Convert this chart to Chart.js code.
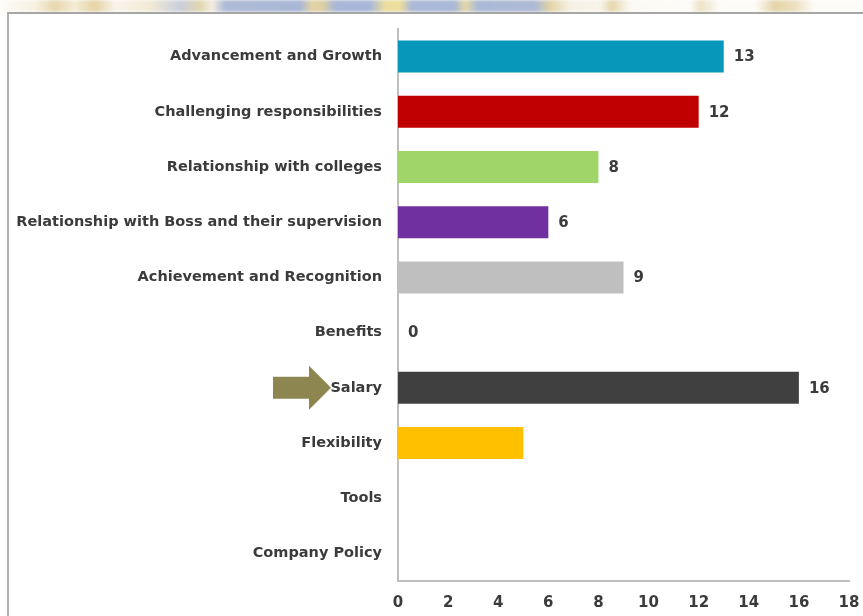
<!DOCTYPE html>
<html>
<head>
<meta charset="utf-8">
<script src="https://cdn.jsdelivr.net/npm/chart.js@4.4.1/dist/chart.umd.min.js"></script>
<style>
    html, body { margin: 0; padding: 0; background: #fff; }
    #wrap { position: relative; width: 863px; height: 616px; overflow: hidden; }
    /* faded banner strip above the frame */
    #banner {
        position: absolute; left: 0; top: 0; width: 863px; height: 12px;
        background: linear-gradient(90deg,
            #fdfcf8 0px, #f7f1e2 35px, #e8d7ad 55px, #f4ecd6 75px, #e6d2a4 95px, #f8f4ea 115px,
            #f2ead6 150px, #c9cfda 180px, #e2d5b0 200px, #f3eee0 212px, #aebbd6 225px,
            #a9b7d6 300px, #e3d3a6 312px, #e0d1a2 322px, #a9b8d8 335px, #a9b8d8 370px,
            #ebdd9e 385px, #ecdd9c 400px, #aab9d8 412px, #aab8d6 455px, #e6d9a6 465px,
            #abb9d6 478px, #adbad4 535px, #e3d3a7 550px, #f6f1e4 570px, #f8f4ea 600px,
            #e6d6ad 612px, #fbf9f3 630px, #fdfcf9 690px, #ede2c4 700px, #fdfcf9 720px,
            #fdfcf9 755px, #e5d4a8 775px, #ece0c0 795px, #fdfcf9 815px, #fdfcf9 863px);
        filter: blur(1.5px);
    }
    #frame {
        position: absolute; left: 7px; top: 12px; width: 900px; height: 700px;
        border-top: 2px solid #a6a6a6; border-left: 2px solid #b0b0b0; box-sizing: border-box;
        background: #fff;
    }
    #chart { position: absolute; left: 0; top: 0; }
</style>
</head>
<body>
<div id="wrap">
    <div id="banner"></div>
    <div id="frame"></div>
    <canvas id="chart" width="863" height="616"></canvas>
</div>
<script>
// categories top to bottom
const factors = [
    'Advancement and Growth',
    'Challenging responsibilities',
    'Relationship with colleges',
    'Relationship with Boss and their supervision',
    'Achievement and Recognition',
    'Benefits',
    'Salary',
    'Flexibility',
    'Tools',
    'Company Policy'
];
const counts = [13, 12, 8, 6, 9, 0, 16, 5, null, null];
// value labels printed beside the bars (Flexibility has none)
const shownLabels = ['13', '12', '8', '6', '9', '0', '16', null, null, null];
const barColors = ['#0797ba', '#c00000', '#a0d56a', '#7030a0', '#bfbfbf', '#ffffff', '#404040', '#ffc000', '#ffffff', '#ffffff'];
const xTicks = [0, 2, 4, 6, 8, 10, 12, 14, 16, 18];

const textColor = '#3b3b3b';
const fontFamily = '"DejaVu Sans", sans-serif';

// writes the value next to the end of each bar
const valueLabels = {
    id: 'valueLabels',
    afterDatasetsDraw(chart) {
        const ctx = chart.ctx;
        const meta = chart.getDatasetMeta(0);
        ctx.save();
        ctx.font = 'bold 15px ' + fontFamily;
        ctx.fillStyle = textColor;
        ctx.textAlign = 'left';
        ctx.textBaseline = 'middle';
        meta.data.forEach((bar, i) => {
            if (shownLabels[i] === null) return;
            ctx.fillText(shownLabels[i], bar.x + 10, bar.y + 1);
        });
        ctx.restore();
    }
};

// olive arrow pointing at the Salary label
const salaryArrow = {
    id: 'salaryArrow',
    afterDraw(chart) {
        const yScale = chart.scales.y;
        const idx = factors.indexOf('Salary');
        const cy = yScale.getPixelForValue(idx);
        const tip = chart.chartArea.left - 67;
        const ctx = chart.ctx;
        ctx.save();
        ctx.fillStyle = '#8e8651';
        ctx.beginPath();
        ctx.moveTo(tip - 58, cy - 11);
        ctx.lineTo(tip - 22, cy - 11);
        ctx.lineTo(tip - 22, cy - 22);
        ctx.lineTo(tip, cy);
        ctx.lineTo(tip - 22, cy + 22);
        ctx.lineTo(tip - 22, cy + 11);
        ctx.lineTo(tip - 58, cy + 11);
        ctx.closePath();
        ctx.fill();
        ctx.restore();
    }
};

new Chart(document.getElementById('chart'), {
    type: 'bar',
    data: {
        labels: factors,
        datasets: [{
            data: counts,
            backgroundColor: barColors,
            barPercentage: 0.58,
            categoryPercentage: 1.0
        }]
    },
    options: {
        indexAxis: 'y',
        responsive: false,
        animation: false,
        layout: { padding: { top: 29, right: 14, bottom: 0, left: 0 } },
        plugins: {
            legend: { display: false },
            tooltip: { enabled: false }
        },
        scales: {
            x: {
                min: 0,
                max: 18,
                afterBuildTicks(scale) {
                    scale.ticks = xTicks.map(v => ({ value: v }));
                },
                afterFit(scale) {
                    scale.height = 35;
                    scale.paddingLeft = 0;
                    scale.paddingRight = 0;
                },
                grid: { display: false, drawTicks: false },
                border: { display: true, color: '#bfbfbf', width: 2 },
                ticks: {
                    padding: 13,
                    color: textColor,
                    font: { family: fontFamily, size: 15, weight: 'bold' }
                }
            },
            y: {
                afterFit(scale) { scale.width = 398; },
                grid: { display: false, drawTicks: false },
                border: { display: true, color: '#bfbfbf', width: 2 },
                ticks: {
                    padding: 16,
                    color: textColor,
                    font: { family: fontFamily, size: 14.5, weight: 'bold' }
                }
            }
        }
    },
    plugins: [valueLabels, salaryArrow]
});
</script>
</body>
</html>
